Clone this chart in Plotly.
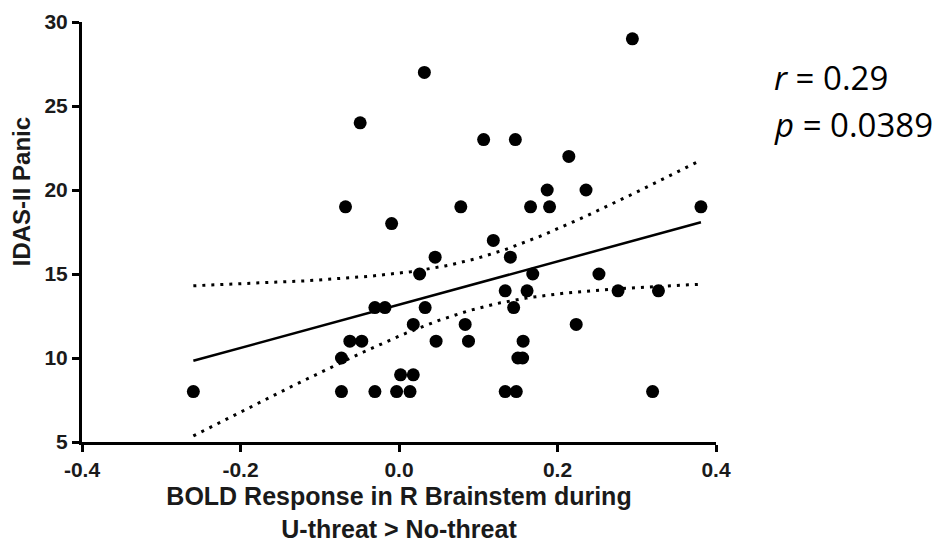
import numpy as np
import plotly.graph_objects as go

bold_x = [-0.2595, -0.0726, -0.0726, -0.0675, -0.062, -0.049, -0.047, -0.0304, -0.0304, -0.0177,
          -0.0093, -0.003, 0.002, 0.0139, 0.018, 0.018, 0.026, 0.032, 0.033, 0.0456,
          0.0468, 0.078, 0.0835, 0.0877, 0.1068, 0.119, 0.134, 0.134, 0.1405, 0.1447,
          0.1468, 0.148, 0.150, 0.156, 0.1566, 0.1616, 0.166, 0.1688, 0.187, 0.190,
          0.2143, 0.2236, 0.236, 0.2523, 0.2764, 0.2945, 0.320, 0.3274, 0.381]
panic = [8, 8, 10, 19, 11, 24, 11, 8, 13, 13,
         18, 8, 9, 8, 9, 12, 15, 27, 13, 16,
         11, 19, 12, 11, 23, 17, 14, 8, 16, 13,
         23, 8, 10, 10, 11, 14, 19, 15, 20, 19,
         22, 12, 20, 15, 14, 29, 8, 14, 19]
x_ticks = [-0.4, -0.2, 0.0, 0.2, 0.4]
x_tick_labels = ["-0.4", "-0.2", "0.0", "0.2", "0.4"]
y_ticks = [5, 10, 15, 20, 25, 30]
stats_text = ["<i>r</i> = 0.29", "<i>p</i> = 0.0389"]

x = np.array(bold_x)
y = np.array(panic, dtype=float)
n = len(x)
b1, b0 = np.polyfit(x, y, 1)
resid = y - (b0 + b1 * x)
s = np.sqrt(np.sum(resid ** 2) / (n - 2))
tcrit = 2.012
xx = np.linspace(x.min(), x.max(), 120)
yy = b0 + b1 * xx
se = s * np.sqrt(1 / n + (xx - x.mean()) ** 2 / np.sum((x - x.mean()) ** 2))
upper = yy + tcrit * se
lower = yy - tcrit * se

fig = go.Figure()
for band in (upper, lower):
    fig.add_trace(go.Scatter(x=xx, y=band, mode="lines",
                             line=dict(color="black", width=3, dash="3px,6px"), hoverinfo="skip"))
fig.add_trace(go.Scatter(x=xx, y=yy, mode="lines",
                         line=dict(color="black", width=2.5), hoverinfo="skip"))
fig.add_trace(go.Scatter(x=bold_x, y=panic, mode="markers",
                         marker=dict(color="black", size=13, line=dict(width=0))))

tick_font = dict(family="Liberation Sans, Arial", size=21, color="#1a1a1a", weight="bold")
fig.update_layout(
    width=949, height=553,
    margin=dict(l=74, r=241, t=14, b=119),
    paper_bgcolor="white", plot_bgcolor="white",
    showlegend=False,
    xaxis=dict(range=[-0.4, 0.4], tickvals=x_ticks, ticktext=x_tick_labels,
               showgrid=False, zeroline=False, showline=True, linecolor="black", linewidth=3,
               ticks="outside", ticklen=7, tickwidth=2.5, tickcolor="black",
               tickfont=tick_font, automargin=False,
               title=dict(text="<b>BOLD Response in R Brainstem during<br>U-threat > No-threat</b>",
                          font=dict(family="Liberation Sans, Arial", size=25, color="#1a1a1a"),
                          standoff=8)),
    yaxis=dict(range=[5, 30], tickvals=y_ticks,
               showgrid=False, zeroline=False, showline=True, linecolor="black", linewidth=3,
               ticks="outside", ticklen=7, tickwidth=2.5, tickcolor="black",
               tickfont=tick_font, automargin=False),
)
fig.add_annotation(text="<b>IDAS-II Panic</b>", xref="paper", yref="paper",
                   x=-0.096, y=0.595, xanchor="center", yanchor="middle", showarrow=False,
                   textangle=-90,
                   font=dict(family="Liberation Sans, Arial", size=24, color="#1a1a1a"))
for i, t in enumerate(stats_text):
    fig.add_annotation(text=t, xref="paper", yref="paper", x=1.089, y=0.867 - i * 0.112,
                       xanchor="left", yanchor="middle", showarrow=False,
                       font=dict(family="Open Sans", size=33, color="black"))
fig.write_html("out.html")
